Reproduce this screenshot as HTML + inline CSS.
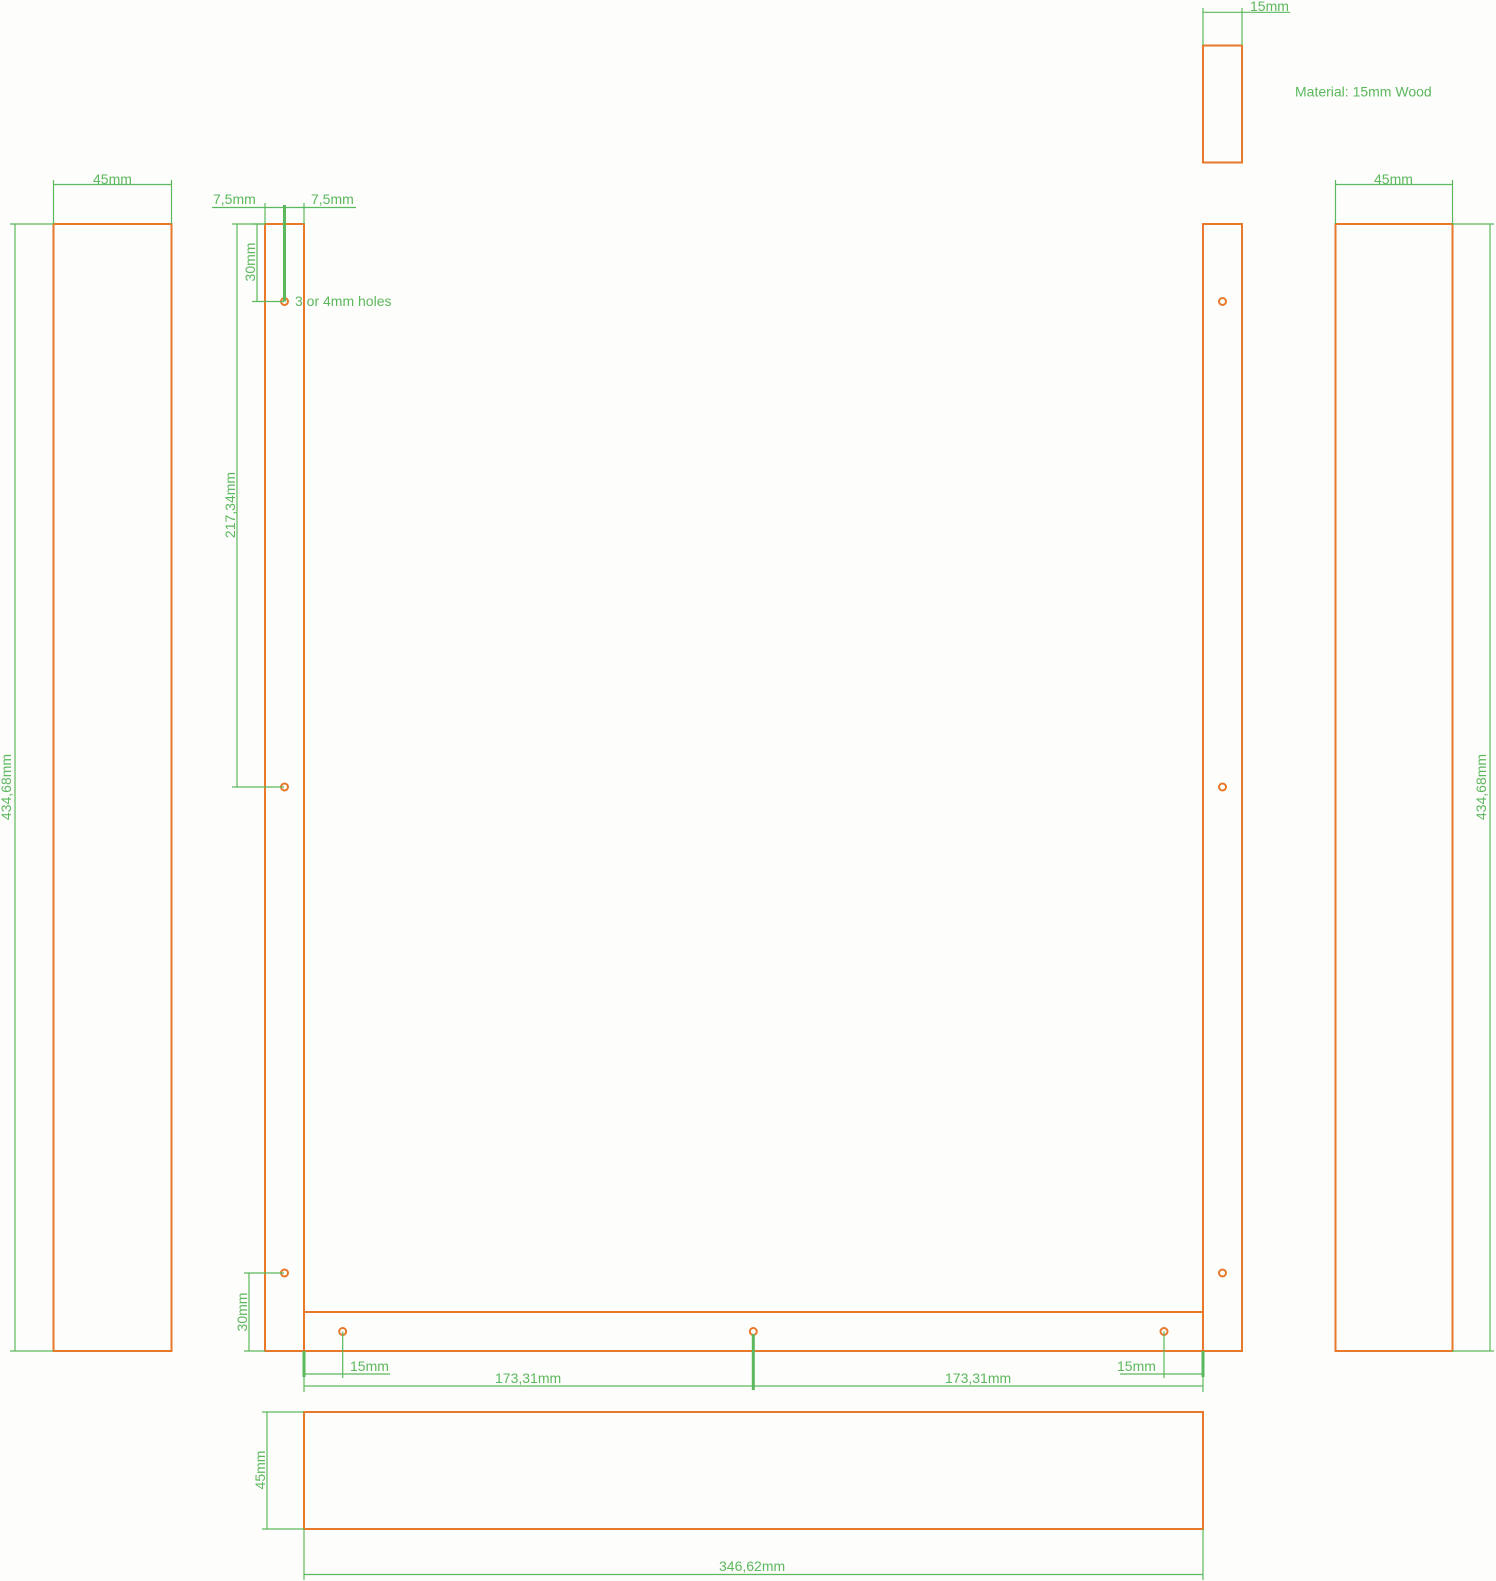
<!DOCTYPE html>
<html><head><meta charset="utf-8"><style>
html,body{margin:0;padding:0;background:#fdfdfc;}
svg{display:block}
text{font-family:"Liberation Sans",sans-serif;font-size:14px;fill:#5cb85c}
</style></head><body>
<svg width="1496" height="1581" viewBox="0 0 1496 1581" xmlns="http://www.w3.org/2000/svg">
<g fill="none" stroke="#e8782a" stroke-width="2">
<rect x="53.5" y="224" width="118" height="1127"/>
<rect x="265" y="224" width="39" height="1127"/>
<rect x="304" y="1312" width="899" height="39"/>
<rect x="1203" y="224" width="39" height="1127"/>
<rect x="1203" y="45.5" width="39" height="117"/>
<rect x="1335.5" y="224" width="117" height="1127"/>
<rect x="304" y="1412" width="899" height="117"/>
<circle cx="284.5" cy="301.5" r="3.5"/>
<circle cx="284.5" cy="787" r="3.5"/>
<circle cx="284.5" cy="1273" r="3.5"/>
<circle cx="1222.5" cy="301.5" r="3.5"/>
<circle cx="1222.5" cy="787" r="3.5"/>
<circle cx="1222.5" cy="1273" r="3.5"/>
<circle cx="342.7" cy="1331.5" r="3.5"/>
<circle cx="753.3" cy="1331.5" r="3.5"/>
<circle cx="1164" cy="1331.5" r="3.5"/>
</g>
<g stroke="#5cb85c" stroke-width="1.2" fill="none">
<!-- left tall -->
<path d="M15 224V1351M10 224H53M10 1351H53"/>
<path d="M53.5 180V224M171.5 180V224M53.5 184.5H171.5"/>
<!-- right tall -->
<path d="M1490 224V1351M1452 224H1494M1452 1351H1494"/>
<path d="M1335.5 180V224M1452.5 180V224M1335.5 184.5H1452.5"/>
<!-- top small -->
<path d="M1203 8V45M1242 8V45M1203 12.3H1290"/>
<!-- 7,5 -->
<path d="M212 207.5H356M265 203V224M304 203V224"/>
<path d="M284.5 205V301.5" stroke-width="3"/>
<!-- 30mm top -->
<path d="M257 224V301.5M252 224H265M252 301.5H284"/>
<!-- 217,34 -->
<path d="M237 224V787M232 224H265M232 787H284"/>
<!-- 30mm bottom -->
<path d="M249 1273V1351M244 1273H284M244 1351H265"/>
<!-- bottom dims -->
<path d="M304 1351V1392M1203 1351V1392M342.7 1331.5V1378M1164 1331.5V1378"/>
<path d="M304 1374H390M1120 1374H1203"/>
<path d="M304 1386H1203"/>
<path d="M304 1351V1377M1203 1351V1377" stroke-width="3"/>
<path d="M753.3 1334V1390" stroke-width="3"/>
<!-- lower rect dims -->
<path d="M267 1412V1529M262 1412H304M262 1529H304"/>
<path d="M304 1529V1580M1203 1529V1580M304 1574.5H1203"/>
</g>
<text x="93" y="184">45mm</text>
<text x="1374" y="184">45mm</text>
<text x="1250" y="11">15mm</text>
<text x="1295" y="96.5">Material: 15mm Wood</text>
<text x="213" y="204">7,5mm</text>
<text x="311" y="204">7,5mm</text>
<text x="295" y="306">3 or 4mm holes</text>
<text x="350" y="1371">15mm</text>
<text x="1117" y="1371">15mm</text>
<text x="495" y="1383">173,31mm</text>
<text x="945" y="1383">173,31mm</text>
<text x="719" y="1571">346,62mm</text>
<text transform="translate(11,787) rotate(-90)" text-anchor="middle">434,68mm</text>
<text transform="translate(1486,787) rotate(-90)" text-anchor="middle">434,68mm</text>
<text transform="translate(255,262) rotate(-90)" text-anchor="middle">30mm</text>
<text transform="translate(235,505) rotate(-90)" text-anchor="middle">217,34mm</text>
<text transform="translate(247,1312) rotate(-90)" text-anchor="middle">30mm</text>
<text transform="translate(265,1470) rotate(-90)" text-anchor="middle">45mm</text>
</svg>
</body></html>
